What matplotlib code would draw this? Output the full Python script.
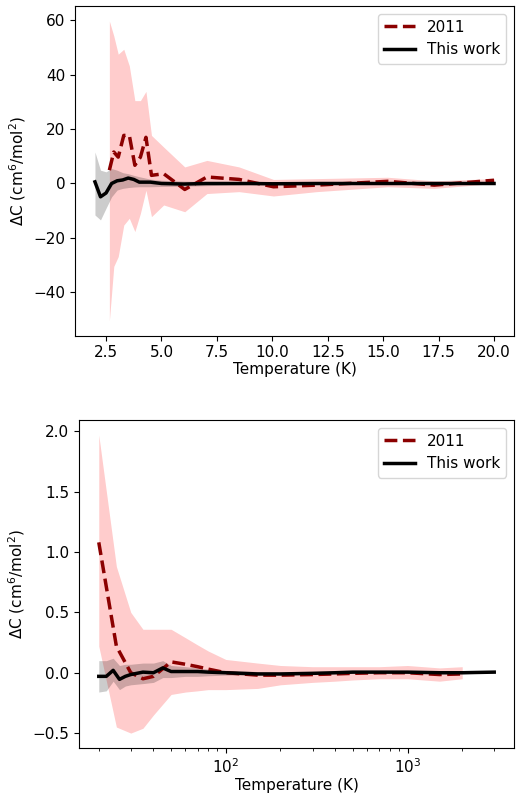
import matplotlib
matplotlib.use("Agg")
import matplotlib.pyplot as plt

# ---- top panel (low temperature) ----
work_T1 = [2.0, 2.25, 2.5, 2.75, 3.0, 3.25, 3.5, 3.75, 4.0, 4.5, 5.0, 6.0, 7.0, 8.0, 9.0, 10.0, 12.0, 14.0, 16.0, 18.0, 20.0]
work_dC1 = [0.6, -4.9, -3.5, 0.0, 1.0, 1.3, 2.0, 1.5, 0.5, 0.5, 0.0, -0.2, 0.0, 0.0, 0.0, -0.1, 0.0, 0.0, 0.0, 0.0, 0.0]
work_hi1 = [11.6, 4.9, 4.3, 5.5, 4.9, 4.0, 3.6, 3.0, 2.5, 1.6, 1.2, 0.9, 0.7, 0.6, 0.5, 0.4, 0.3, 0.3, 0.3, 0.3, 0.3]
work_lo1 = [-11.6, -13.4, -9.1, -4.9, -2.4, -1.8, -1.5, -1.3, -1.2, -1.2, -1.1, -1.0, -0.8, -0.6, -0.5, -0.5, -0.4, -0.3, -0.3, -0.3, -0.3]

ref_T1 = [2.65, 2.85, 3.05, 3.3, 3.55, 3.8, 4.05, 4.3, 4.55, 5.1, 6.05, 7.05, 8.5, 10.05, 12.0, 15.2, 17.3, 20.0]
ref_dC1 = [4.9, 11.6, 9.7, 17.7, 17.7, 6.7, 9.7, 17.0, 3.0, 3.6, -2.2, 2.4, 1.5, -1.2, -0.6, 0.8, -0.6, 1.2]
ref_hi1 = [59.8, 54.3, 47.6, 49.4, 43.3, 30.5, 30.5, 33.9, 17.7, 13.4, 6.1, 8.5, 6.1, 1.5, 1.8, 2.3, 1.0, 1.8]
ref_lo1 = [-50.6, -30.5, -26.9, -15.3, -12.8, -17.7, -11.0, -2.5, -12.2, -7.9, -10.4, -3.7, -3.0, -4.6, -3.0, -1.2, -1.8, 0.0]

# ---- bottom panel (wide temperature range, log axis) ----
work_T2 = [20, 22, 24, 26, 28, 30, 35, 40, 45, 50, 60, 70, 80, 100, 150, 200, 300, 400, 500, 700, 1000, 1500, 2000, 3000]
work_dC2 = [-0.03, -0.03, 0.02, -0.055, -0.03, -0.015, 0.005, 0.0, 0.04, 0.01, 0.01, 0.01, 0.005, 0.0, -0.01, -0.01, -0.005, 0.0, 0.005, 0.005, 0.005, 0.0, 0.0, 0.005]
work_hi2 = [0.10, 0.10, 0.12, 0.06, 0.07, 0.07, 0.08, 0.08, 0.10, 0.06, 0.05, 0.04, 0.03, 0.02, 0.01, 0.005, 0.005, 0.01, 0.015, 0.015, 0.015, 0.01, 0.01, 0.01]
work_lo2 = [-0.16, -0.15, -0.07, -0.14, -0.11, -0.10, -0.09, -0.08, -0.04, -0.04, -0.03, -0.03, -0.025, -0.02, -0.02, -0.02, -0.015, -0.01, -0.005, -0.005, -0.005, -0.01, -0.01, 0.0]

ref_T2 = [20, 25, 30, 35, 40, 50, 60, 70, 80, 100, 150, 200, 300, 400, 500, 700, 1000, 1500, 2000]
ref_dC2 = [1.08, 0.22, 0.0, -0.05, -0.03, 0.09, 0.07, 0.05, 0.03, 0.0, -0.02, -0.02, -0.015, -0.01, -0.005, 0.0, 0.0, -0.015, -0.01]
ref_hi2 = [1.97, 0.88, 0.50, 0.36, 0.36, 0.36, 0.29, 0.23, 0.18, 0.11, 0.08, 0.06, 0.05, 0.05, 0.05, 0.05, 0.06, 0.04, 0.05]
ref_lo2 = [0.22, -0.45, -0.50, -0.46, -0.35, -0.18, -0.16, -0.15, -0.14, -0.14, -0.13, -0.10, -0.08, -0.07, -0.06, -0.05, -0.05, -0.07, -0.05]

ylabel = r"$\Delta$C (cm$^6$/mol$^2$)"
xlabel = "Temperature (K)"

plt.rcParams["font.size"] = 11
DPI = 100
fig = plt.figure(figsize=(528/DPI, 794/DPI), dpi=DPI)
ax1 = fig.add_axes([75/528, 1-336/794, (514-75)/528, (336-6)/794])
ax2 = fig.add_axes([79/528, 1-748/794, (514-79)/528, (748-420)/794])

def draw(ax, wT, wy, wlo, whi, rT, ry, rlo, rhi):
    ax.fill_between(rT, rlo, rhi, color="red", alpha=0.2, linewidth=0)
    ax.plot(rT, ry, "--", color="darkred", lw=2.5, label="2011")
    ax.fill_between(wT, wlo, whi, color="black", alpha=0.2, linewidth=0)
    ax.plot(wT, wy, "-", color="black", lw=2.5, label="This work")
    ax.set_xlabel(xlabel, labelpad=1.5)
    ax.set_ylabel(ylabel)
    ax.tick_params(axis="x", pad=3)
    ax.legend(loc="upper right")

draw(ax1, work_T1, work_dC1, work_lo1, work_hi1, ref_T1, ref_dC1, ref_lo1, ref_hi1)
draw(ax2, work_T2, work_dC2, work_lo2, work_hi2, ref_T2, ref_dC2, ref_lo2, ref_hi2)
ax2.set_xscale("log")

fig.savefig("out.png", dpi=DPI)
